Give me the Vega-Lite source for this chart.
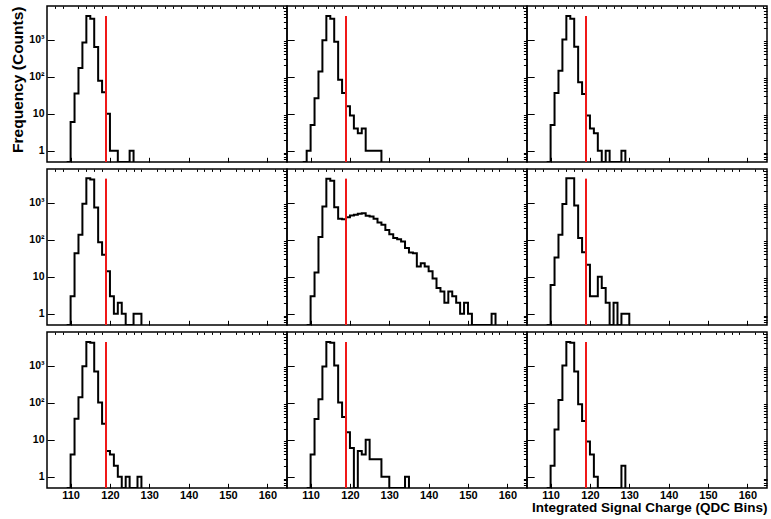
{
  "$schema": "https://vega.github.io/schema/vega-lite/v6.json",
  "background": "white",
  "padding": {"left": 10, "top": 4, "right": 3, "bottom": 4},
  "config": {
    "font": "Liberation Sans",
    "view": {"stroke": "black", "strokeWidth": 1.5},
    "axis": {"domain": false, "grid": false, "tickColor": "black", "tickWidth": 1, "labelColor": "black", "labelFont": "Liberation Sans", "labelFontWeight": "bold", "titleColor": "black", "titleFont": "Liberation Sans", "titleFontWeight": "bold"}
  },
  "datasets": {
    "hist": [
      {"p":"A","b":109,"n":0},{"p":"A","b":110,"n":6},{"p":"A","b":111,"n":35},{"p":"A","b":112,"n":170},{"p":"A","b":113,"n":830},{"p":"A","b":114,"n":4300},{"p":"A","b":115,"n":3650},{"p":"A","b":116,"n":625},{"p":"A","b":117,"n":77},{"p":"A","b":118,"n":38},{"p":"A","b":119,"n":10},{"p":"A","b":120,"n":1},{"p":"A","b":121,"n":1},{"p":"A","b":122,"n":0},{"p":"A","b":123,"n":0},{"p":"A","b":124,"n":0},{"p":"A","b":125,"n":1},{"p":"A","b":126,"n":0},
      {"p":"B","b":108,"n":0},{"p":"B","b":109,"n":1},{"p":"B","b":110,"n":5},{"p":"B","b":111,"n":26},{"p":"B","b":112,"n":137},{"p":"B","b":113,"n":960},{"p":"B","b":114,"n":4300},{"p":"B","b":115,"n":3650},{"p":"B","b":116,"n":870},{"p":"B","b":117,"n":82},{"p":"B","b":118,"n":36},{"p":"B","b":119,"n":16},{"p":"B","b":120,"n":9},{"p":"B","b":121,"n":4},{"p":"B","b":122,"n":3},{"p":"B","b":123,"n":4},{"p":"B","b":124,"n":1},{"p":"B","b":125,"n":1},{"p":"B","b":126,"n":1},{"p":"B","b":127,"n":1},{"p":"B","b":128,"n":0},
      {"p":"C","b":109,"n":0},{"p":"C","b":110,"n":5},{"p":"C","b":111,"n":36},{"p":"C","b":112,"n":143},{"p":"C","b":113,"n":1000},{"p":"C","b":114,"n":4300},{"p":"C","b":115,"n":3650},{"p":"C","b":116,"n":640},{"p":"C","b":117,"n":70},{"p":"C","b":118,"n":34},{"p":"C","b":119,"n":9},{"p":"C","b":120,"n":4},{"p":"C","b":121,"n":3},{"p":"C","b":122,"n":1},{"p":"C","b":123,"n":0},{"p":"C","b":124,"n":1},{"p":"C","b":125,"n":0},{"p":"C","b":126,"n":0},{"p":"C","b":127,"n":0},{"p":"C","b":128,"n":1},{"p":"C","b":129,"n":0},
      {"p":"D","b":109,"n":0},{"p":"D","b":110,"n":3},{"p":"D","b":111,"n":43},{"p":"D","b":112,"n":135},{"p":"D","b":113,"n":920},{"p":"D","b":114,"n":4500},{"p":"D","b":115,"n":4200},{"p":"D","b":116,"n":735},{"p":"D","b":117,"n":85},{"p":"D","b":118,"n":39},{"p":"D","b":119,"n":14},{"p":"D","b":120,"n":3},{"p":"D","b":121,"n":1},{"p":"D","b":122,"n":2},{"p":"D","b":123,"n":1},{"p":"D","b":124,"n":0},{"p":"D","b":125,"n":0},{"p":"D","b":126,"n":1},{"p":"D","b":127,"n":1},{"p":"D","b":128,"n":0},
      {"p":"E","b":109,"n":0},{"p":"E","b":110,"n":3},{"p":"E","b":111,"n":13},{"p":"E","b":112,"n":117},{"p":"E","b":113,"n":780},{"p":"E","b":114,"n":4360},{"p":"E","b":115,"n":3850},{"p":"E","b":116,"n":740},{"p":"E","b":117,"n":365},{"p":"E","b":118,"n":355},{"p":"E","b":119,"n":400},{"p":"E","b":120,"n":445},{"p":"E","b":121,"n":465},{"p":"E","b":122,"n":500},{"p":"E","b":123,"n":515},{"p":"E","b":124,"n":440},{"p":"E","b":125,"n":420},{"p":"E","b":126,"n":365},{"p":"E","b":127,"n":290},{"p":"E","b":128,"n":250},{"p":"E","b":129,"n":183},{"p":"E","b":130,"n":140},{"p":"E","b":131,"n":110},{"p":"E","b":132,"n":103},{"p":"E","b":133,"n":89},{"p":"E","b":134,"n":59},{"p":"E","b":135,"n":45},{"p":"E","b":136,"n":43},{"p":"E","b":137,"n":19},{"p":"E","b":138,"n":23},{"p":"E","b":139,"n":19},{"p":"E","b":140,"n":14},{"p":"E","b":141,"n":9},{"p":"E","b":142,"n":5},{"p":"E","b":143,"n":4},{"p":"E","b":144,"n":2},{"p":"E","b":145,"n":4},{"p":"E","b":146,"n":3},{"p":"E","b":147,"n":2},{"p":"E","b":148,"n":1},{"p":"E","b":149,"n":2},{"p":"E","b":150,"n":1},{"p":"E","b":151,"n":0},{"p":"E","b":152,"n":0},{"p":"E","b":153,"n":0},{"p":"E","b":154,"n":0},{"p":"E","b":155,"n":0},{"p":"E","b":156,"n":1},{"p":"E","b":157,"n":0},
      {"p":"F","b":109,"n":0},{"p":"F","b":110,"n":6},{"p":"F","b":111,"n":33},{"p":"F","b":112,"n":135},{"p":"F","b":113,"n":905},{"p":"F","b":114,"n":4500},{"p":"F","b":115,"n":4500},{"p":"F","b":116,"n":830},{"p":"F","b":117,"n":110},{"p":"F","b":118,"n":46},{"p":"F","b":119,"n":21},{"p":"F","b":120,"n":3},{"p":"F","b":121,"n":3},{"p":"F","b":122,"n":10},{"p":"F","b":123,"n":5},{"p":"F","b":124,"n":2},{"p":"F","b":125,"n":0},{"p":"F","b":126,"n":2},{"p":"F","b":127,"n":0},{"p":"F","b":128,"n":1},{"p":"F","b":129,"n":1},{"p":"F","b":130,"n":0},
      {"p":"G","b":109,"n":0},{"p":"G","b":110,"n":4},{"p":"G","b":111,"n":37},{"p":"G","b":112,"n":140},{"p":"G","b":113,"n":960},{"p":"G","b":114,"n":4300},{"p":"G","b":115,"n":4100},{"p":"G","b":116,"n":690},{"p":"G","b":117,"n":100},{"p":"G","b":118,"n":27},{"p":"G","b":119,"n":5},{"p":"G","b":120,"n":4},{"p":"G","b":121,"n":2},{"p":"G","b":122,"n":1},{"p":"G","b":123,"n":0},{"p":"G","b":124,"n":1},{"p":"G","b":125,"n":0},{"p":"G","b":126,"n":0},{"p":"G","b":127,"n":1},{"p":"G","b":128,"n":0},
      {"p":"H","b":109,"n":0},{"p":"H","b":110,"n":4},{"p":"H","b":111,"n":36},{"p":"H","b":112,"n":123},{"p":"H","b":113,"n":940},{"p":"H","b":114,"n":4300},{"p":"H","b":115,"n":4100},{"p":"H","b":116,"n":1000},{"p":"H","b":117,"n":100},{"p":"H","b":118,"n":41},{"p":"H","b":119,"n":16},{"p":"H","b":120,"n":6},{"p":"H","b":121,"n":0},{"p":"H","b":122,"n":5},{"p":"H","b":123,"n":4},{"p":"H","b":124,"n":10},{"p":"H","b":125,"n":3},{"p":"H","b":126,"n":3},{"p":"H","b":127,"n":3},{"p":"H","b":128,"n":1},{"p":"H","b":129,"n":1},{"p":"H","b":130,"n":0},{"p":"H","b":131,"n":0},{"p":"H","b":132,"n":0},{"p":"H","b":133,"n":0},{"p":"H","b":134,"n":1},{"p":"H","b":135,"n":0},
      {"p":"I","b":109,"n":0},{"p":"I","b":110,"n":2},{"p":"I","b":111,"n":19},{"p":"I","b":112,"n":118},{"p":"I","b":113,"n":1000},{"p":"I","b":114,"n":4300},{"p":"I","b":115,"n":4100},{"p":"I","b":116,"n":690},{"p":"I","b":117,"n":90},{"p":"I","b":118,"n":32},{"p":"I","b":119,"n":9},{"p":"I","b":120,"n":4},{"p":"I","b":121,"n":1},{"p":"I","b":122,"n":0},{"p":"I","b":123,"n":0},{"p":"I","b":124,"n":0},{"p":"I","b":125,"n":0},{"p":"I","b":126,"n":0},{"p":"I","b":127,"n":0},{"p":"I","b":128,"n":2},{"p":"I","b":129,"n":0}
    ],
    "cut": [
      {"p":"A","x":119,"lo":0.5,"hi":4300},{"p":"B","x":119,"lo":0.5,"hi":4300},{"p":"C","x":119,"lo":0.5,"hi":4300},
      {"p":"D","x":119,"lo":0.5,"hi":4400},{"p":"E","x":119,"lo":0.5,"hi":4400},{"p":"F","x":119,"lo":0.5,"hi":4400},
      {"p":"G","x":119,"lo":0.5,"hi":4300},{"p":"H","x":119,"lo":0.5,"hi":4300},{"p":"I","x":119,"lo":0.5,"hi":4300}
    ]
  },
  "columns": 3,
  "spacing": {"row": 7, "column": 0},
  "bounds": "flush",
  "align": "all",
  "concat": [
      {"width": 240, "height": 156, "resolve": {"axis": {"x": "independent", "y": "independent"}}, "layer": [
        {"data": {"name": "hist"}, "transform": [{"filter": "datum.p == 'A'"}], "mark": {"type": "line", "interpolate": "step-after", "color": "black", "strokeWidth": 2, "clip": true},
         "encoding": {"x": {"field": "b", "type": "quantitative", "scale": {"domain": [104, 165], "nice": false, "zero": false}, "axis": {"values": [110,120,130,140,150,160], "tickSize": -4.7, "labels": false, "title": null}},
                      "y": {"field": "n", "type": "quantitative", "scale": {"type": "log", "domain": [0.5, 8000], "nice": false, "clamp": true}, "axis": {"values": [1,10,100,1000], "tickSize": -7.2, "labelPadding": 10.2, "labelFontSize": 10.5, "labelExpr": "datum.value == 1000 ? '10³' : datum.value == 100 ? '10²' : datum.value == 10 ? '10' : '1'", "title": "Frequency (Counts)", "titleAnchor": "end", "titleFontSize": 15.5, "titlePadding": 3}}}},
        {"data": {"name": "cut"}, "transform": [{"filter": "datum.p == 'A'"}], "mark": {"type": "rule", "color": "#f01818", "strokeWidth": 2},
         "encoding": {"x": {"field": "x", "type": "quantitative", "axis": {"values": [106,108,112,114,116,118,122,124,126,128,132,134,136,138,142,144,146,148,152,154,156,158,162,164], "tickSize": -2.4, "labels": false, "title": null}},
                      "y": {"field": "lo", "type": "quantitative", "axis": {"values": [0.6,0.7,0.8,0.9,2,3,4,5,6,7,8,9,20,30,40,50,60,70,80,90,200,300,400,500,600,700,800,900,2000,3000,4000,5000,6000,7000], "tickSize": -3.6, "labels": false, "title": null}},
                      "y2": {"field": "hi"}}}
      ]},
      {"width": 240, "height": 156, "resolve": {"axis": {"x": "independent", "y": "independent"}}, "layer": [
        {"data": {"name": "hist"}, "transform": [{"filter": "datum.p == 'B'"}], "mark": {"type": "line", "interpolate": "step-after", "color": "black", "strokeWidth": 2, "clip": true},
         "encoding": {"x": {"field": "b", "type": "quantitative", "scale": {"domain": [104, 165], "nice": false, "zero": false}, "axis": {"values": [110,120,130,140,150,160], "tickSize": -4.7, "labels": false, "title": null}},
                      "y": {"field": "n", "type": "quantitative", "scale": {"type": "log", "domain": [0.5, 8000], "nice": false, "clamp": true}, "axis": {"values": [1,10,100,1000], "tickSize": -7.2, "labels": false, "title": null}}}},
        {"data": {"name": "cut"}, "transform": [{"filter": "datum.p == 'B'"}], "mark": {"type": "rule", "color": "#f01818", "strokeWidth": 2},
         "encoding": {"x": {"field": "x", "type": "quantitative", "axis": {"values": [106,108,112,114,116,118,122,124,126,128,132,134,136,138,142,144,146,148,152,154,156,158,162,164], "tickSize": -2.4, "labels": false, "title": null}},
                      "y": {"field": "lo", "type": "quantitative", "axis": {"values": [0.6,0.7,0.8,0.9,2,3,4,5,6,7,8,9,20,30,40,50,60,70,80,90,200,300,400,500,600,700,800,900,2000,3000,4000,5000,6000,7000], "tickSize": -3.6, "labels": false, "title": null}},
                      "y2": {"field": "hi"}}}
      ]},
      {"width": 240, "height": 156, "resolve": {"axis": {"x": "independent", "y": "independent"}}, "layer": [
        {"data": {"name": "hist"}, "transform": [{"filter": "datum.p == 'C'"}], "mark": {"type": "line", "interpolate": "step-after", "color": "black", "strokeWidth": 2, "clip": true},
         "encoding": {"x": {"field": "b", "type": "quantitative", "scale": {"domain": [104, 165], "nice": false, "zero": false}, "axis": {"values": [110,120,130,140,150,160], "tickSize": -4.7, "labels": false, "title": null}},
                      "y": {"field": "n", "type": "quantitative", "scale": {"type": "log", "domain": [0.5, 8000], "nice": false, "clamp": true}, "axis": {"values": [1,10,100,1000], "tickSize": -7.2, "labels": false, "title": null}}}},
        {"data": {"name": "cut"}, "transform": [{"filter": "datum.p == 'C'"}], "mark": {"type": "rule", "color": "#f01818", "strokeWidth": 2},
         "encoding": {"x": {"field": "x", "type": "quantitative", "axis": {"values": [106,108,112,114,116,118,122,124,126,128,132,134,136,138,142,144,146,148,152,154,156,158,162,164], "tickSize": -2.4, "labels": false, "title": null}},
                      "y": {"field": "lo", "type": "quantitative", "axis": {"values": [0.6,0.7,0.8,0.9,2,3,4,5,6,7,8,9,20,30,40,50,60,70,80,90,200,300,400,500,600,700,800,900,2000,3000,4000,5000,6000,7000], "tickSize": -3.6, "labels": false, "title": null}},
                      "y2": {"field": "hi"}}}
      ]},
      {"width": 240, "height": 156, "resolve": {"axis": {"x": "independent", "y": "independent"}}, "layer": [
        {"data": {"name": "hist"}, "transform": [{"filter": "datum.p == 'D'"}], "mark": {"type": "line", "interpolate": "step-after", "color": "black", "strokeWidth": 2, "clip": true},
         "encoding": {"x": {"field": "b", "type": "quantitative", "scale": {"domain": [104, 165], "nice": false, "zero": false}, "axis": {"values": [110,120,130,140,150,160], "tickSize": -4.7, "labels": false, "title": null}},
                      "y": {"field": "n", "type": "quantitative", "scale": {"type": "log", "domain": [0.5, 8000], "nice": false, "clamp": true}, "axis": {"values": [1,10,100,1000], "tickSize": -7.2, "labelPadding": 10.2, "labelFontSize": 10.5, "labelExpr": "datum.value == 1000 ? '10³' : datum.value == 100 ? '10²' : datum.value == 10 ? '10' : '1'", "title": null}}}},
        {"data": {"name": "cut"}, "transform": [{"filter": "datum.p == 'D'"}], "mark": {"type": "rule", "color": "#f01818", "strokeWidth": 2},
         "encoding": {"x": {"field": "x", "type": "quantitative", "axis": {"values": [106,108,112,114,116,118,122,124,126,128,132,134,136,138,142,144,146,148,152,154,156,158,162,164], "tickSize": -2.4, "labels": false, "title": null}},
                      "y": {"field": "lo", "type": "quantitative", "axis": {"values": [0.6,0.7,0.8,0.9,2,3,4,5,6,7,8,9,20,30,40,50,60,70,80,90,200,300,400,500,600,700,800,900,2000,3000,4000,5000,6000,7000], "tickSize": -3.6, "labels": false, "title": null}},
                      "y2": {"field": "hi"}}}
      ]},
      {"width": 240, "height": 156, "resolve": {"axis": {"x": "independent", "y": "independent"}}, "layer": [
        {"data": {"name": "hist"}, "transform": [{"filter": "datum.p == 'E'"}], "mark": {"type": "line", "interpolate": "step-after", "color": "black", "strokeWidth": 2, "clip": true},
         "encoding": {"x": {"field": "b", "type": "quantitative", "scale": {"domain": [104, 165], "nice": false, "zero": false}, "axis": {"values": [110,120,130,140,150,160], "tickSize": -4.7, "labels": false, "title": null}},
                      "y": {"field": "n", "type": "quantitative", "scale": {"type": "log", "domain": [0.5, 8000], "nice": false, "clamp": true}, "axis": {"values": [1,10,100,1000], "tickSize": -7.2, "labels": false, "title": null}}}},
        {"data": {"name": "cut"}, "transform": [{"filter": "datum.p == 'E'"}], "mark": {"type": "rule", "color": "#f01818", "strokeWidth": 2},
         "encoding": {"x": {"field": "x", "type": "quantitative", "axis": {"values": [106,108,112,114,116,118,122,124,126,128,132,134,136,138,142,144,146,148,152,154,156,158,162,164], "tickSize": -2.4, "labels": false, "title": null}},
                      "y": {"field": "lo", "type": "quantitative", "axis": {"values": [0.6,0.7,0.8,0.9,2,3,4,5,6,7,8,9,20,30,40,50,60,70,80,90,200,300,400,500,600,700,800,900,2000,3000,4000,5000,6000,7000], "tickSize": -3.6, "labels": false, "title": null}},
                      "y2": {"field": "hi"}}}
      ]},
      {"width": 240, "height": 156, "resolve": {"axis": {"x": "independent", "y": "independent"}}, "layer": [
        {"data": {"name": "hist"}, "transform": [{"filter": "datum.p == 'F'"}], "mark": {"type": "line", "interpolate": "step-after", "color": "black", "strokeWidth": 2, "clip": true},
         "encoding": {"x": {"field": "b", "type": "quantitative", "scale": {"domain": [104, 165], "nice": false, "zero": false}, "axis": {"values": [110,120,130,140,150,160], "tickSize": -4.7, "labels": false, "title": null}},
                      "y": {"field": "n", "type": "quantitative", "scale": {"type": "log", "domain": [0.5, 8000], "nice": false, "clamp": true}, "axis": {"values": [1,10,100,1000], "tickSize": -7.2, "labels": false, "title": null}}}},
        {"data": {"name": "cut"}, "transform": [{"filter": "datum.p == 'F'"}], "mark": {"type": "rule", "color": "#f01818", "strokeWidth": 2},
         "encoding": {"x": {"field": "x", "type": "quantitative", "axis": {"values": [106,108,112,114,116,118,122,124,126,128,132,134,136,138,142,144,146,148,152,154,156,158,162,164], "tickSize": -2.4, "labels": false, "title": null}},
                      "y": {"field": "lo", "type": "quantitative", "axis": {"values": [0.6,0.7,0.8,0.9,2,3,4,5,6,7,8,9,20,30,40,50,60,70,80,90,200,300,400,500,600,700,800,900,2000,3000,4000,5000,6000,7000], "tickSize": -3.6, "labels": false, "title": null}},
                      "y2": {"field": "hi"}}}
      ]},
      {"width": 240, "height": 156, "resolve": {"axis": {"x": "independent", "y": "independent"}}, "layer": [
        {"data": {"name": "hist"}, "transform": [{"filter": "datum.p == 'G'"}], "mark": {"type": "line", "interpolate": "step-after", "color": "black", "strokeWidth": 2, "clip": true},
         "encoding": {"x": {"field": "b", "type": "quantitative", "scale": {"domain": [104, 165], "nice": false, "zero": false}, "axis": {"values": [110,120,130,140,150,160], "tickSize": -4.7, "labelPadding": 6.2, "labelFontSize": 11, "title": null}},
                      "y": {"field": "n", "type": "quantitative", "scale": {"type": "log", "domain": [0.5, 8000], "nice": false, "clamp": true}, "axis": {"values": [1,10,100,1000], "tickSize": -7.2, "labelPadding": 10.2, "labelFontSize": 10.5, "labelExpr": "datum.value == 1000 ? '10³' : datum.value == 100 ? '10²' : datum.value == 10 ? '10' : '1'", "title": null}}}},
        {"data": {"name": "cut"}, "transform": [{"filter": "datum.p == 'G'"}], "mark": {"type": "rule", "color": "#f01818", "strokeWidth": 2},
         "encoding": {"x": {"field": "x", "type": "quantitative", "axis": {"values": [106,108,112,114,116,118,122,124,126,128,132,134,136,138,142,144,146,148,152,154,156,158,162,164], "tickSize": -2.4, "labels": false, "title": null}},
                      "y": {"field": "lo", "type": "quantitative", "axis": {"values": [0.6,0.7,0.8,0.9,2,3,4,5,6,7,8,9,20,30,40,50,60,70,80,90,200,300,400,500,600,700,800,900,2000,3000,4000,5000,6000,7000], "tickSize": -3.6, "labels": false, "title": null}},
                      "y2": {"field": "hi"}}}
      ]},
      {"width": 240, "height": 156, "resolve": {"axis": {"x": "independent", "y": "independent"}}, "layer": [
        {"data": {"name": "hist"}, "transform": [{"filter": "datum.p == 'H'"}], "mark": {"type": "line", "interpolate": "step-after", "color": "black", "strokeWidth": 2, "clip": true},
         "encoding": {"x": {"field": "b", "type": "quantitative", "scale": {"domain": [104, 165], "nice": false, "zero": false}, "axis": {"values": [110,120,130,140,150,160], "tickSize": -4.7, "labelPadding": 6.2, "labelFontSize": 11, "title": null}},
                      "y": {"field": "n", "type": "quantitative", "scale": {"type": "log", "domain": [0.5, 8000], "nice": false, "clamp": true}, "axis": {"values": [1,10,100,1000], "tickSize": -7.2, "labels": false, "title": null}}}},
        {"data": {"name": "cut"}, "transform": [{"filter": "datum.p == 'H'"}], "mark": {"type": "rule", "color": "#f01818", "strokeWidth": 2},
         "encoding": {"x": {"field": "x", "type": "quantitative", "axis": {"values": [106,108,112,114,116,118,122,124,126,128,132,134,136,138,142,144,146,148,152,154,156,158,162,164], "tickSize": -2.4, "labels": false, "title": null}},
                      "y": {"field": "lo", "type": "quantitative", "axis": {"values": [0.6,0.7,0.8,0.9,2,3,4,5,6,7,8,9,20,30,40,50,60,70,80,90,200,300,400,500,600,700,800,900,2000,3000,4000,5000,6000,7000], "tickSize": -3.6, "labels": false, "title": null}},
                      "y2": {"field": "hi"}}}
      ]},
      {"width": 240, "height": 156, "resolve": {"axis": {"x": "independent", "y": "independent"}}, "layer": [
        {"data": {"name": "hist"}, "transform": [{"filter": "datum.p == 'I'"}], "mark": {"type": "line", "interpolate": "step-after", "color": "black", "strokeWidth": 2, "clip": true},
         "encoding": {"x": {"field": "b", "type": "quantitative", "scale": {"domain": [104, 165], "nice": false, "zero": false}, "axis": {"values": [110,120,130,140,150,160], "tickSize": -4.7, "labelPadding": 6.2, "labelFontSize": 11, "title": "Integrated Signal Charge (QDC Bins)", "titleAnchor": "end", "titleFontSize": 13.5, "titlePadding": 0}},
                      "y": {"field": "n", "type": "quantitative", "scale": {"type": "log", "domain": [0.5, 8000], "nice": false, "clamp": true}, "axis": {"values": [1,10,100,1000], "tickSize": -7.2, "labels": false, "title": null}}}},
        {"data": {"name": "cut"}, "transform": [{"filter": "datum.p == 'I'"}], "mark": {"type": "rule", "color": "#f01818", "strokeWidth": 2},
         "encoding": {"x": {"field": "x", "type": "quantitative", "axis": {"values": [106,108,112,114,116,118,122,124,126,128,132,134,136,138,142,144,146,148,152,154,156,158,162,164], "tickSize": -2.4, "labels": false, "title": null}},
                      "y": {"field": "lo", "type": "quantitative", "axis": {"values": [0.6,0.7,0.8,0.9,2,3,4,5,6,7,8,9,20,30,40,50,60,70,80,90,200,300,400,500,600,700,800,900,2000,3000,4000,5000,6000,7000], "tickSize": -3.6, "labels": false, "title": null}},
                      "y2": {"field": "hi"}}}
      ]}
  ]
}
